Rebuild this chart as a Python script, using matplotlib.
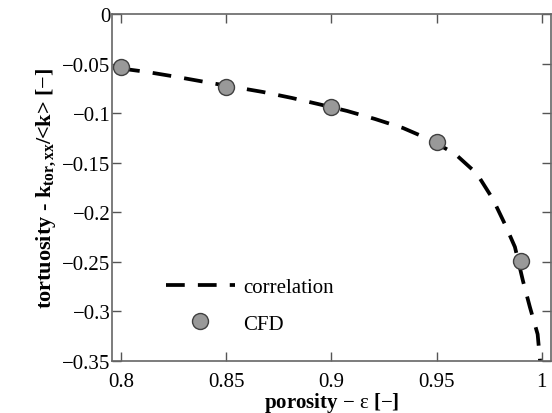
import numpy as np
import matplotlib
matplotlib.use('Agg')
import matplotlib.pyplot as plt

plt.rcParams['font.family'] = ['Liberation Serif', 'DejaVu Serif']
plt.rcParams['mathtext.fontset'] = 'custom'
plt.rcParams['mathtext.rm'] = 'Liberation Serif'
plt.rcParams['mathtext.it'] = 'Liberation Serif:italic'
plt.rcParams['mathtext.bf'] = 'Liberation Serif:bold'

# CFD points
cfd_eps = [0.80, 0.85, 0.90, 0.95, 0.99]
cfd_tort = [-0.0535, -0.0736, -0.0938, -0.129, -0.249]

# correlation curve
corr_eps = [0.800, 0.8124, 0.8266, 0.840, 0.8675, 0.8812, 0.8936, 0.9074,
            0.9207, 0.934, 0.946, 0.9587, 0.9691, 0.9767, 0.9824, 0.9872,
            0.991, 0.9943, 0.998, 1.0]
corr_tort = [-0.055, -0.0585, -0.0635, -0.0686, -0.0787, -0.0847, -0.0908,
             -0.0978, -0.1059, -0.115, -0.126, -0.141, -0.161, -0.1866,
             -0.2118, -0.235, -0.269, -0.2955, -0.323, -0.37]

xticks = [0.8, 0.85, 0.9, 0.95, 1.0]
xticklabels = ['0.8', '0.85', '0.9', '0.95', '1']
yticks = [0, -0.05, -0.1, -0.15, -0.2, -0.25, -0.3, -0.35]
yticklabels = ['0', '\u22120.05', '\u22120.1', '\u22120.15', '\u22120.2',
               '\u22120.25', '\u22120.3', '\u22120.35']

fig = plt.figure(figsize=(5.52, 4.14), dpi=100)
ax = fig.add_axes([0.203, 0.1256, 0.795, 0.8382])

ax.plot(corr_eps, corr_tort, color='black', lw=2.7, dashes=(5, 3.5),
        label='correlation')
ax.plot(cfd_eps, cfd_tort, 'o', ms=11.5, mfc='#999999', mec='#404040',
        mew=1.0, label='CFD', zorder=3)

ax.set_xlim(0.7957, 1.0043)
ax.set_ylim(-0.35, 0)
ax.set_xticks(xticks)
ax.set_xticklabels(xticklabels)
ax.set_yticks(yticks)
ax.set_yticklabels(yticklabels)
ax.tick_params(direction='in', length=6.5, width=1, colors='#555555',
               labelcolor='black', labelsize=15, top=True, right=True, pad=1)
ax.tick_params(axis='x', pad=8)
for s in ax.spines.values():
    s.set_color('#666666')
    s.set_linewidth(1.2)

ax.set_xlabel(r'porosity $-\ \mathrm{ε}$ [$-$]', fontsize=15,
              fontweight='bold', labelpad=-1)
ax.set_ylabel(r'tortuosity - $\mathbf{k_{tor,xx}}$/<k> [$-$]', fontsize=16,
              fontweight='bold', labelpad=3)

ax.legend(loc='lower left', bbox_to_anchor=(0.08, 0.025), frameon=False,
          fontsize=15, handlelength=3.3, handletextpad=0.4, labelspacing=0.8)

fig.savefig('out.png', dpi=100)
